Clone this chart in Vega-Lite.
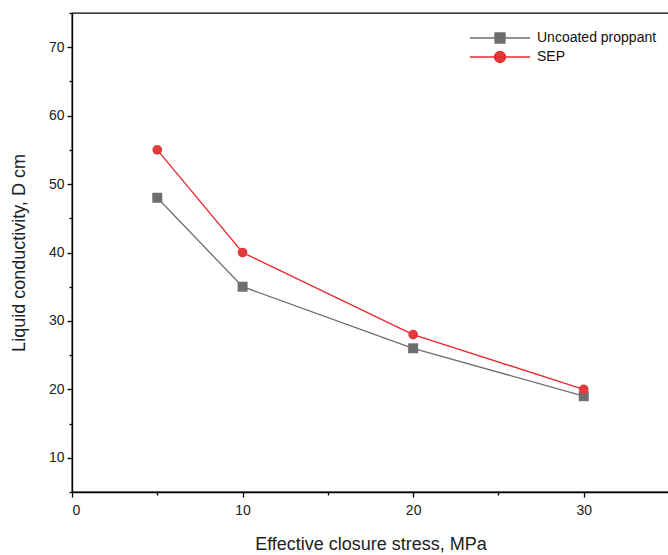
{
  "$schema": "https://vega.github.io/schema/vega-lite/v6.json",
  "width": 597,
  "height": 479,
  "autosize": {"type": "none"},
  "padding": {"left": 72, "top": 13, "right": 0, "bottom": 63},
  "background": "white",
  "config": {
    "font": "Liberation Sans",
    "view": {"stroke": "#000", "strokeWidth": 1.3},
    "axis": {
      "grid": false,
      "domainColor": "#000",
      "domainWidth": 1.3,
      "tickColor": "#000",
      "tickWidth": 1.3,
      "tickSize": 5,
      "labelFontSize": 14,
      "labelColor": "#222",
      "titleFontSize": 18,
      "titleFontWeight": "normal",
      "titleColor": "#222"
    }
  },
  "data": {
    "values": [
      {"stress": 5, "cond": 48, "series": "Uncoated proppant"},
      {"stress": 10, "cond": 35, "series": "Uncoated proppant"},
      {"stress": 20, "cond": 26, "series": "Uncoated proppant"},
      {"stress": 30, "cond": 19, "series": "Uncoated proppant"},
      {"stress": 5, "cond": 55, "series": "SEP"},
      {"stress": 10, "cond": 40, "series": "SEP"},
      {"stress": 20, "cond": 28, "series": "SEP"},
      {"stress": 30, "cond": 20, "series": "SEP"}
    ]
  },
  "layer": [
    {
      "mark": {"type": "line", "strokeWidth": 1.3},
      "encoding": {
        "x": {
          "field": "stress", "type": "quantitative",
          "scale": {"domain": [0, 35], "nice": false},
          "axis": {"orient": "bottom", "values": [0, 10, 20, 30], "title": "Effective closure stress, MPa", "labelPadding": 6, "titlePadding": 18}
        },
        "y": {
          "field": "cond", "type": "quantitative",
          "scale": {"domain": [5, 75], "nice": false, "zero": false},
          "axis": {"orient": "left", "values": [10, 20, 30, 40, 50, 60, 70], "title": "Liquid conductivity, D cm", "labelPadding": 3, "titlePadding": 20}
        },
        "color": {
          "field": "series", "type": "nominal",
          "scale": {"domain": ["Uncoated proppant", "SEP"], "range": ["#6e6e6e", "#e8282b"]},
          "legend": {
            "orient": "none",
            "legendX": 421,
            "legendY": 18,
            "title": null,
            "symbolSize": 100,
            "symbolStrokeWidth": 1.3,
            "symbolOpacity": 1,
            "labelFontSize": 14,
            "labelColor": "#111",
            "labelOffset": 30,
            "rowPadding": 2,
            "encode": {
              "symbols": {
                "update": {
                  "shape": {"signal": "datum.value === 'SEP' ? 'M-6,0L6,0M1.1,0A1.1,1.1,0,1,1,-1.1,0A1.1,1.1,0,1,1,1.1,0Z' : 'M-6,0L6,0M-1,-1L1,-1L1,1L-1,1Z'"},
                  "fill": {"signal": "datum.value === 'SEP' ? '#e23b3b' : '#6e6e6e'"},
                  "stroke": {"signal": "datum.value === 'SEP' ? '#e8282b' : '#6e6e6e'"},
                  "strokeWidth": {"value": 1.3},
                  "strokeOpacity": {"value": 1},
                  "opacity": {"value": 1}
                }
              }
            }
          }
        }
      }
    },
    {
      "transform": [{"filter": "datum.series === 'Uncoated proppant'"}],
      "mark": {"type": "square", "size": 100, "color": "#6e6e6e", "opacity": 1},
      "encoding": {
        "x": {
          "field": "stress", "type": "quantitative",
          "scale": {"domain": [0, 35], "nice": false},
          "axis": {"orient": "bottom", "values": [5, 15, 25, 35], "labels": false, "domain": false, "tickSize": 3, "title": null}
        },
        "y": {
          "field": "cond", "type": "quantitative",
          "scale": {"domain": [5, 75], "nice": false, "zero": false},
          "axis": {"orient": "left", "values": [5, 15, 25, 35, 45, 55, 65, 75], "labels": false, "domain": false, "tickSize": 3, "title": null}
        }
      }
    },
    {
      "transform": [{"filter": "datum.series === 'SEP'"}],
      "mark": {"type": "circle", "size": 95, "color": "#e23b3b", "opacity": 1},
      "encoding": {
        "x": {"field": "stress", "type": "quantitative", "scale": {"domain": [0, 35], "nice": false}, "axis": null},
        "y": {"field": "cond", "type": "quantitative", "scale": {"domain": [5, 75], "nice": false, "zero": false}, "axis": null}
      }
    }
  ],
  "resolve": {"axis": {"x": "independent", "y": "independent"}}
}
